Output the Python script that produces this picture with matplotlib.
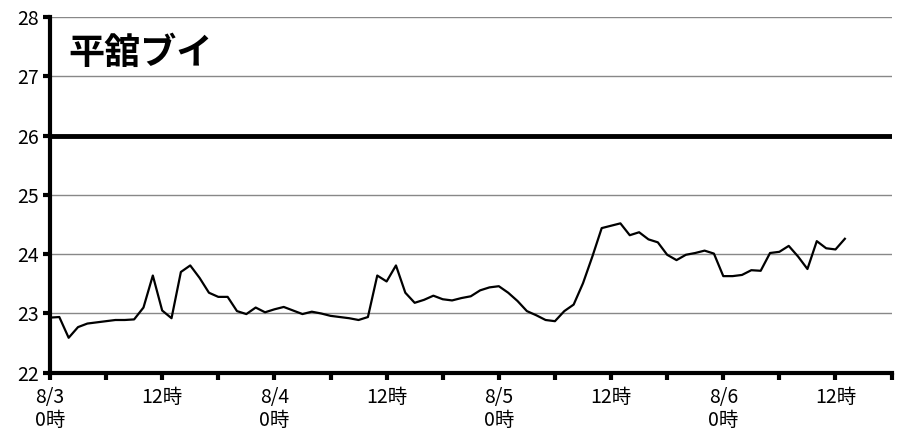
import matplotlib
matplotlib.use("Agg")
import matplotlib.pyplot as plt

plt.rcParams['font.family'] = ['Noto Sans CJK JP', 'DejaVu Sans']

# hourly water temperature from 8/3 0時
hours = list(range(86))
temp = [22.93, 22.94, 22.59, 22.77, 22.83, 22.85, 22.87, 22.89, 22.89, 22.90,
        23.10, 23.64, 23.05, 22.92, 23.70, 23.81, 23.60, 23.35, 23.28, 23.28,
        23.04, 22.99, 23.10, 23.02, 23.07, 23.11, 23.05, 22.99, 23.03, 23.00,
        22.96, 22.94, 22.92, 22.89, 22.94, 23.64, 23.54, 23.81, 23.35, 23.18,
        23.23, 23.30, 23.24, 23.22, 23.26, 23.29, 23.39, 23.44, 23.46, 23.35,
        23.21, 23.04, 22.97, 22.89, 22.87, 23.04, 23.15, 23.51, 23.96, 24.44,
        24.48, 24.52, 24.32, 24.37, 24.25, 24.20, 23.99, 23.90, 23.99, 24.02,
        24.06, 24.01, 23.63, 23.63, 23.65, 23.73, 23.72, 24.02, 24.04, 24.14,
        23.96, 23.75, 24.22, 24.10, 24.08, 24.26]

xticks = list(range(0, 91, 6))
xlabels = ['8/3\n0時', '', '12時', '', '8/4\n0時', '', '12時', '',
           '8/5\n0時', '', '12時', '', '8/6\n0時', '', '12時', '']
yticks = [22, 23, 24, 25, 26, 27, 28]
limit = 26

fig = plt.figure(figsize=(9.05, 4.37), dpi=100)
ax = fig.add_axes([0.0552, 0.147, 0.930, 0.814])

for y in yticks[1:]:
    if y != limit:
        ax.axhline(y, color='#888888', lw=1.0, zorder=1)
ax.axhline(limit, color='black', lw=3.5, zorder=2)

ax.plot(hours, temp, color='black', lw=1.6, zorder=3)

ax.set_xlim(0, 90)
ax.set_ylim(22, 28)
ax.set_xticks(xticks)
ax.set_xticklabels(xlabels, fontsize=14, linespacing=1.15)
ax.set_yticks(yticks)
ax.set_yticklabels([str(v) for v in yticks], fontsize=14)

for s in ['top', 'right']:
    ax.spines[s].set_visible(False)
ax.spines['left'].set_linewidth(3)
ax.spines['bottom'].set_linewidth(3)
ax.tick_params(axis='x', width=3, length=5, direction='out', pad=5)
ax.tick_params(axis='y', width=3, length=5, direction='out', pad=3)

ax.text(0.022, 0.95, '平舘ブイ', transform=ax.transAxes, fontsize=26,
        fontweight='bold', va='top', ha='left')

fig.savefig('out.png', dpi=100)
